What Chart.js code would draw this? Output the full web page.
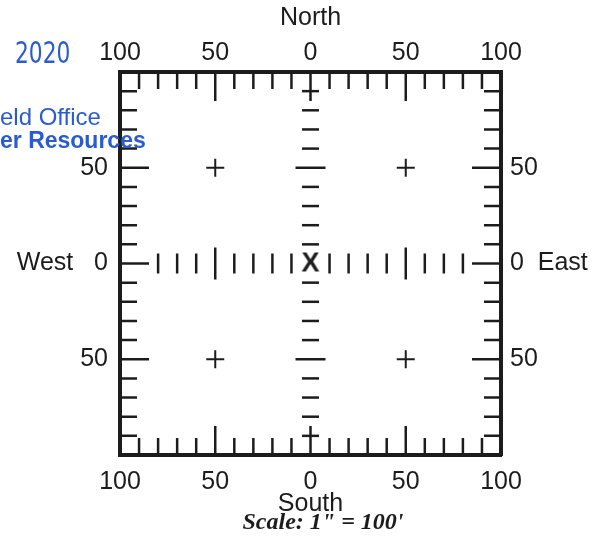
<!DOCTYPE html>
<html>
<head>
<meta charset="utf-8">
<script src="https://cdn.jsdelivr.net/npm/chart.js@4"></script>
<style>
  body { margin: 0; background: #fff; }
  #wrap { width: 605px; height: 540px; }
</style>
</head>
<body>
<div id="wrap"><canvas id="myChart"></canvas></div>
<script>
// grid values (feet from the centre X)
const xLabelValues = [-100, -50, 0, 50, 100];
const yLabelValues = [-50, 0, 50];
const tickValues = [-90, -80, -70, -60, -50, -40, -30, -20, -10, 0, 10, 20, 30, 40, 50, 60, 70, 80, 90];
const rowValues = [-80, -70, -60, -50, -40, -30, -20, -10, 10, 20, 30, 40, 50, 60, 70, 80];
const majorValues = [-50, 0, 50];
const plusX = [-50, 50, -50, 50];
const plusY = [50, 50, -50, -50];
const centre = [{ x: 0, y: 0 }];

const ink = "#1c1c1c";
const labelFont = { family: "'Liberation Sans', Arial, sans-serif", size: 25 };

const isMajor = (v) => majorValues.includes(v);

// ticks along the frame: drawn at the edge, clipped to the inside
const topBottomTicks = [];
const leftRightTicks = [];
tickValues.forEach((v) => {
	topBottomTicks.push({ x: v, y: 100 }, { x: v, y: -100 });
	leftRightTicks.push({ x: -100, y: v }, { x: 100, y: v });
});
const rowTicks = rowValues.map((v) => ({ x: v, y: 0 }));
const colTicks = tickValues.filter((v) => v !== 0).map((v) => ({ x: 0, y: v }));
const plusPoints = plusX.map((x, i) => ({ x: x, y: plusY[i] }));

// the centre mark is a letter X
const xMark = document.createElement("canvas");
xMark.width = 24;
xMark.height = 30;
const xc = xMark.getContext("2d");
xc.fillStyle = ink;
xc.font = "bold 27px 'Liberation Sans', Arial, sans-serif";
xc.textAlign = "center";
xc.textBaseline = "middle";
xc.fillText("X", 12, 16);

const markStyle = { showLine: false, pointBorderColor: ink, pointBackgroundColor: ink, pointBorderWidth: 2.5, clip: 0 };

// stamp text and scale note
const notes = {
	id: "notes",
	afterDraw(chart) {
		const c = chart.ctx;
		c.save();
		c.fillStyle = "#2a5ccf";
		c.textBaseline = "middle";
		c.textAlign = "left";
		c.font = "31px 'Liberation Sans Narrow', 'DejaVu Sans Condensed', sans-serif";
		c.save();
		c.translate(15, 55);
		c.scale(0.78, 1);
		c.fillText("2020", 0, 0);
		c.restore();
		c.font = "24px 'Liberation Sans', Arial, sans-serif";
		c.fillText("eld Office", 0, 118);
		c.font = "bold 23px 'Liberation Sans', Arial, sans-serif";
		c.fillText("er Resources", 0, 142);
		c.fillStyle = ink;
		c.textAlign = "center";
		c.font = "italic bold 24px 'Liberation Serif', 'Times New Roman', serif";
		c.fillText("Scale: 1\" = 100'", 323, 523);
		c.restore();
	},
};

const ctx = document.getElementById("myChart");

new Chart(ctx, {
	type: "scatter",
	data: {
		datasets: [
			{ ...markStyle, data: topBottomTicks, pointStyle: "line", rotation: 90, pointRadius: (c) => (isMajor(c.raw.x) ? 29 : 17) },
			{ ...markStyle, data: leftRightTicks, pointStyle: "line", rotation: 0, pointRadius: (c) => (isMajor(c.raw.y) ? 29 : 17) },
			{ ...markStyle, data: rowTicks, pointStyle: "line", rotation: 90, pointRadius: (c) => (isMajor(c.raw.x) ? 16 : 10) },
			{ ...markStyle, data: colTicks, pointStyle: "line", rotation: 0, pointRadius: (c) => (isMajor(c.raw.y) ? 15 : 8.5) },
			{ ...markStyle, data: plusPoints, pointStyle: "cross", pointRadius: 9, pointBorderWidth: 2 },
			{ ...markStyle, data: centre, pointStyle: xMark },
		],
	},
	options: {
		responsive: true,
		maintainAspectRatio: false,
		animation: false,
		events: [],
		layout: { padding: 0 },
		plugins: { legend: { display: false }, tooltip: { enabled: false } },
		scales: {
			x: {
				position: "bottom",
				min: -100,
				max: 100,
				afterBuildTicks: (s) => { s.ticks = xLabelValues.map((v) => ({ value: v })); },
				afterFit: (s) => { s.height = 85; },
				grid: { display: false, drawTicks: false },
				border: { display: true, width: 4, color: ink },
				ticks: { color: ink, font: labelFont, padding: 12, maxRotation: 0, callback: (v) => Math.abs(v) },
				title: { display: true, text: "South", color: ink, font: labelFont, padding: { top: 0, bottom: 21 } },
			},
			x2: {
				position: "top",
				min: -100,
				max: 100,
				afterBuildTicks: (s) => { s.ticks = xLabelValues.map((v) => ({ value: v })); },
				afterFit: (s) => { s.height = 72; },
				grid: { display: false, drawTicks: false },
				border: { display: true, width: 4, color: ink },
				ticks: { color: ink, font: labelFont, padding: 4, maxRotation: 0, callback: (v) => Math.abs(v) },
				title: { display: true, text: "North", color: ink, font: labelFont, padding: { top: 3, bottom: 0 } },
			},
			y: {
				position: "left",
				min: -100,
				max: 100,
				afterBuildTicks: (s) => { s.ticks = yLabelValues.map((v) => ({ value: v })); },
				afterFit: (s) => { s.width = 120; },
				grid: { display: false, drawTicks: false },
				border: { display: true, width: 4, color: ink },
				ticks: { color: ink, font: labelFont, padding: 12, callback: (v) => (v === 0 ? "West   0" : Math.abs(v)) },
			},
			y2: {
				position: "right",
				min: -100,
				max: 100,
				afterBuildTicks: (s) => { s.ticks = yLabelValues.map((v) => ({ value: v })); },
				afterFit: (s) => { s.width = 104; },
				grid: { display: false, drawTicks: false },
				border: { display: true, width: 4, color: ink },
				ticks: { color: ink, font: labelFont, padding: 9, callback: (v) => (v === 0 ? "0  East" : Math.abs(v)) },
			},
		},
	},
	plugins: [notes],
});
</script>
</body>
</html>
